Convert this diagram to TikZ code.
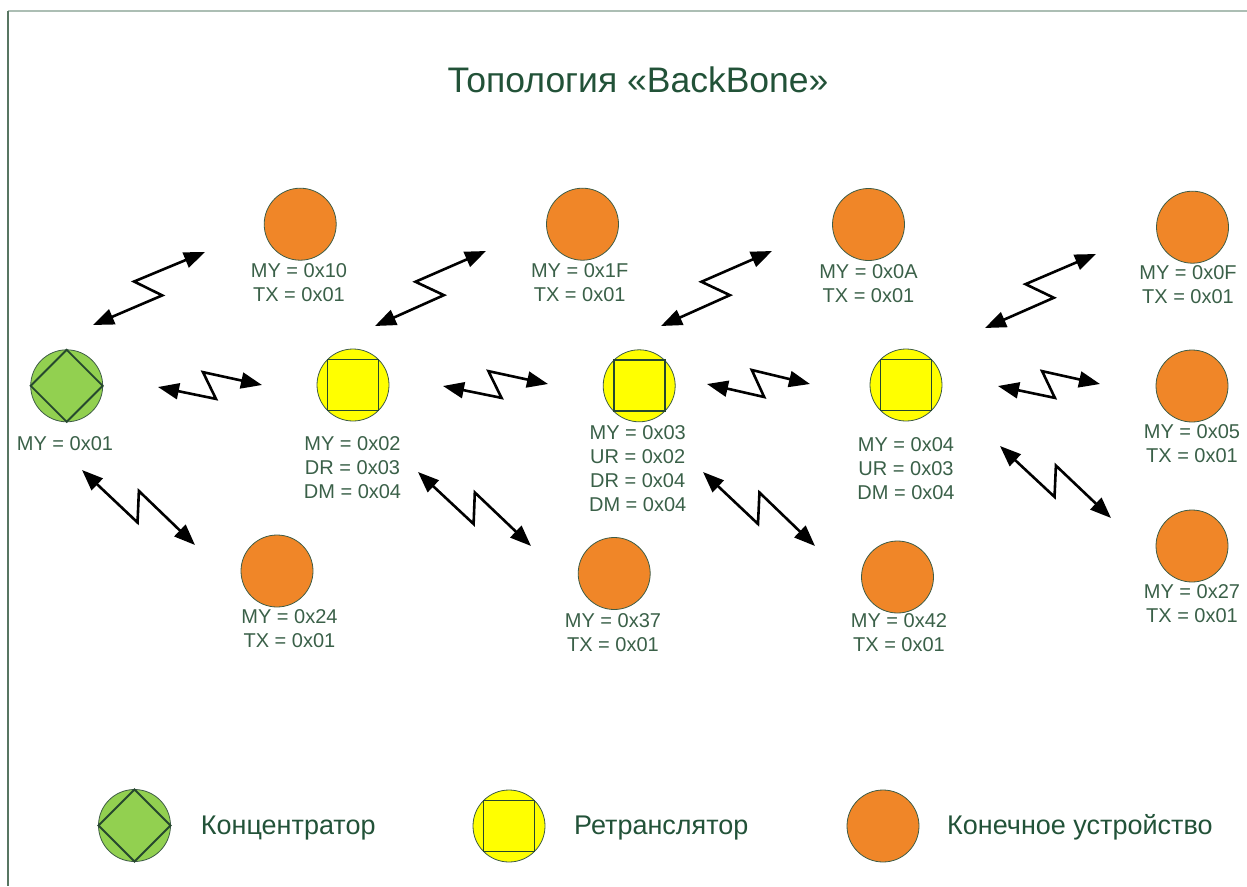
\documentclass[tikz,border=0pt]{standalone}
\usepackage{fontspec}
\setmainfont{Liberation Sans}
\usetikzlibrary{arrows.meta,calc}

\definecolor{endfill}{RGB}{240,134,40}
\definecolor{hubfill}{RGB}{146,208,80}
\definecolor{relayfill}{RGB}{255,255,0}
\definecolor{rim}{RGB}{62,92,70}
\definecolor{inner}{RGB}{38,72,46}
\definecolor{labeltext}{RGB}{58,96,72}
\definecolor{headtext}{RGB}{34,82,56}
\definecolor{frametop}{RGB}{172,190,180}
\definecolor{frameleft}{RGB}{88,118,98}

% zig-zag radio link with a filled head at each end
\newcommand\zapline[2]{%
  \draw[zap] (#1) -- ($(#1)!0.555!(#2)!13pt!-90:(#2)$)
                  -- ($(#1)!0.435!(#2)!14pt!90:(#2)$) -- (#2);}

\begin{document}
\begin{tikzpicture}[x=1pt,y=-1pt,
  dev/.style={circle, minimum size=72pt, inner sep=0pt, outer sep=0pt,
              draw=rim, line width=0.8pt},
  enddev/.style={dev, fill=endfill},
  hub/.style={dev, fill=hubfill},
  relay/.style={dev, fill=relayfill},
  innerline/.style={draw=inner, line width=1.8pt, line join=miter},
  lbl/.style={anchor=north, inner sep=0pt, outer sep=0pt, align=center,
              text=labeltext, font=\fontsize{20}{24}\selectfont},
  legtext/.style={anchor=base west, inner sep=0pt, text=headtext,
                  font=\fontsize{27}{31}\selectfont},
  zap/.style={line width=2.6pt, line join=miter,
              {Triangle[length=21pt,width=16pt]}-{Triangle[length=21pt,width=16pt]}}
]
\useasboundingbox (0,0) rectangle (1247,886);

% frame
\draw[frametop, line width=1.2pt] (8,11) -- (1247,11);
\draw[frameleft, line width=1.6pt] (8,11) -- (8,886);

% title
\node[anchor=base, inner sep=0pt, text=headtext, font=\fontsize{35.5}{40}\selectfont]
  (title) at (638,92) {Топология «BackBone»};

% hub
\node[hub] (hub) at (66.7,385.8) {};
\draw[innerline] (hub.north) -- (hub.east) -- (hub.south) -- (hub.west) -- cycle;
\node[lbl] (lhub) at (65,436.7) {MY = 0x01};

% relays
\node[relay] (r2) at (353,385) {};
\node[relay] (r3) at (639.2,385.8) {};
\node[relay] (r4) at (906,385) {};
\foreach \r in {r2,r3,r4}
  \draw[innerline] (\r.45) -- (\r.135) -- (\r.225) -- (\r.315) -- cycle;
\node[lbl] (lr2) at (352.5,437) {MY = 0x02\\DR = 0x03\\DM = 0x04};
\node[lbl] (lr3) at (637.7,426) {MY = 0x03\\UR = 0x02\\DR = 0x04\\DM = 0x04};
\node[lbl] (lr4) at (906,438) {MY = 0x04\\UR = 0x03\\DM = 0x04};

% end devices, top row
\node[enddev] (e10) at (300.2,224.2) {};
\node[enddev] (e1F) at (582.5,224.2) {};
\node[enddev] (e0A) at (868.5,224.5) {};
\node[enddev] (e0F) at (1192.5,227.2) {};
\node[lbl] (le10) at (299,263.3) {MY = 0x10\\TX = 0x01};
\node[lbl] (le1F) at (579.7,263.3) {MY = 0x1F\\TX = 0x01};
\node[lbl] (le0A) at (868.5,265) {MY = 0x0A\\TX = 0x01};
\node[lbl] (le0F) at (1188,266) {MY = 0x0F\\TX = 0x01};

% end devices, right column and bottom row
\node[enddev] (e05) at (1192,386) {};
\node[lbl] (le05) at (1192,425) {MY = 0x05\\TX = 0x01};
\node[enddev] (e27) at (1192,546) {};
\node[lbl] (le27) at (1192,585) {MY = 0x27\\TX = 0x01};
\node[enddev] (e24) at (277,571) {};
\node[lbl] (le24) at (289.5,610) {MY = 0x24\\TX = 0x01};
\node[enddev] (e37) at (614.2,573.5) {};
\node[lbl] (le37) at (613,613.3) {MY = 0x37\\TX = 0x01};
\node[enddev] (e42) at (897.5,577) {};
\node[lbl] (le42) at (899,613.5) {MY = 0x42\\TX = 0x01};

% radio links
\coordinate (z1a) at (93,325);   \coordinate (z1b) at (205,252);
\coordinate (z2a) at (375,326);  \coordinate (z2b) at (486,251);
\coordinate (z3a) at (661,326);  \coordinate (z3b) at (772,251);
\coordinate (z4a) at (985,328);  \coordinate (z4b) at (1096,254);
\coordinate (z5a) at (158,387);  \coordinate (z5b) at (262,385);
\coordinate (z6a) at (443,386);  \coordinate (z6b) at (548,384);
\coordinate (z7a) at (707,384);  \coordinate (z7b) at (810,384);
\coordinate (z8a) at (998,386);  \coordinate (z8b) at (1100,384);
\coordinate (z9a) at (82,470);   \coordinate (z9b) at (195,545);
\coordinate (z10a) at (418,472); \coordinate (z10b) at (531,546);
\coordinate (z11a) at (703,472); \coordinate (z11b) at (815,546);
\coordinate (z12a) at (1000,446);\coordinate (z12b) at (1111,518);
\foreach \k in {1,...,12} { \zapline{z\k a}{z\k b} }

% legend
\node[hub] (khub) at (134.5,825.5) {};
\draw[innerline] (khub.north) -- (khub.east) -- (khub.south) -- (khub.west) -- cycle;
\node[legtext] (thub) at (200.7,834.3) {Концентратор};
\node[relay] (krelay) at (509,826) {};
\draw[innerline] (krelay.45) -- (krelay.135) -- (krelay.225) -- (krelay.315) -- cycle;
\node[legtext] (trelay) at (574,834.3) {Ретранслятор};
\node[enddev] (kend) at (883,826) {};
\node[legtext] (tend) at (947,834.3) {Конечное устройство};
\end{tikzpicture}
\end{document}
